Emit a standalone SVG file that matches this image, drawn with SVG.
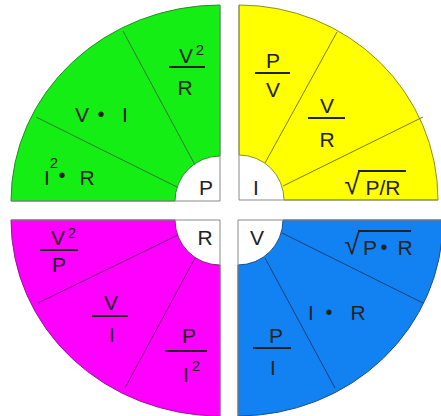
<svg xmlns="http://www.w3.org/2000/svg" width="441" height="416" viewBox="0 0 441 416">
<style>
text{font-family:"Liberation Sans",Arial,sans-serif;font-size:21px;fill:#222;text-anchor:middle}
.sup{font-size:15px}
.dot{font-size:20px}
.rad{font-size:28px}
.edge{fill:none;stroke:#8a8a8a;stroke-width:1}
.bar{stroke:#222;stroke-width:2}
.g{fill:#14ee14;stroke:#2b8a2b;stroke-width:1}
.y{fill:#ffff00;stroke:#8f8f20;stroke-width:1}
.m{fill:#ff00ff;stroke:#8a208a;stroke-width:1}
.b{fill:#1282f2;stroke:#1f4f8a;stroke-width:1}
.gl{stroke:#2b7a2b;stroke-width:1}
.yl{stroke:#7a7a10;stroke-width:1}
.ml{stroke:#7a1a7a;stroke-width:1}
.bl{stroke:#1a3f7a;stroke-width:1}
</style>
<rect width="441" height="416" fill="#fff"/>
<g id="power">
<path class="g" d="M220,5 A209,196 0 0 0 11,201 L175,201 A45,45 0 0 1 220,156 Z"/>
<path class="edge" d="M11,201 L220,201 L220,5"/>
<line class="gl" x1="36" y1="117" x2="177" y2="187"/>
<line class="gl" x1="123" y1="31" x2="195" y2="165"/>
<text x="186" y="63">V</text><text class="sup" x="200" y="55">2</text>
<line class="bar" x1="169" y1="67" x2="205" y2="67"/>
<text x="185" y="95">R</text>
<text x="82" y="122">V</text><text class="dot" x="101" y="121">•</text><text x="125" y="122">I</text>
<text x="47" y="185">I</text><text class="sup" x="54" y="168">2</text><text class="dot" x="62" y="182">•</text><text x="87" y="185">R</text>
<text x="206" y="195">P</text>
</g>
<g id="current">
<path class="y" d="M239,5 A199,195 0 0 1 438,200 L284,200 A45,45 0 0 0 239,155 Z"/>
<path class="edge" d="M438,200 L239,200 L239,5"/>
<line class="yl" x1="337" y1="32" x2="265" y2="163"/>
<line class="yl" x1="423" y1="117" x2="283" y2="186"/>
<text x="273" y="68">P</text>
<line class="bar" x1="255" y1="73" x2="290" y2="73"/>
<text x="273" y="97">V</text>
<text x="327" y="113">V</text>
<line class="bar" x1="308" y1="118" x2="345" y2="118"/>
<text x="327" y="147">R</text>
<text class="rad" x="352" y="194">√</text>
<line class="bar" x1="358" y1="171" x2="406" y2="171"/>
<text x="383" y="195">P/R</text>
<text x="256" y="195">I</text>
</g>
<g id="resistance">
<path class="m" d="M11,220 A209,196 0 0 0 220,416 L220,265 A45,45 0 0 1 175,220 Z"/>
<path class="edge" d="M11,220 L220,220 L220,416"/>
<line class="ml" x1="38" y1="303" x2="178" y2="235"/>
<line class="ml" x1="125" y1="388" x2="195" y2="258"/>
<text x="58" y="245">V</text><text class="sup" x="72" y="238">2</text>
<line class="bar" x1="40" y1="250" x2="78" y2="250"/>
<text x="59" y="272">P</text>
<text x="111" y="310">V</text>
<line class="bar" x1="92" y1="316" x2="128" y2="316"/>
<text x="112" y="342">I</text>
<text x="189" y="343">P</text>
<line class="bar" x1="165" y1="351" x2="207" y2="351"/>
<text x="186" y="382">I</text><text class="sup" x="196" y="371">2</text>
<text x="205" y="245">R</text>
</g>
<g id="voltage">
<path class="b" d="M443,220 A205,196 0 0 1 238,416 L238,265 A45,45 0 0 0 283,220 Z"/>
<path class="edge" d="M443,220 L238,220 L238,416"/>
<line class="bl" x1="282" y1="233" x2="423" y2="303"/>
<line class="bl" x1="265" y1="258" x2="335" y2="388"/>
<text class="rad" x="352" y="254">√</text>
<line class="bar" x1="358" y1="231" x2="411" y2="231"/>
<text x="370" y="255">P</text><text class="dot" x="384" y="254">•</text><text x="405" y="255">R</text>
<text x="311" y="320">I</text><text class="dot" x="329" y="319">•</text><text x="358" y="320">R</text>
<text x="276" y="343">P</text>
<line class="bar" x1="253" y1="348" x2="291" y2="348"/>
<text x="273" y="375">I</text>
<text x="257" y="245">V</text>
</g>
</svg>
